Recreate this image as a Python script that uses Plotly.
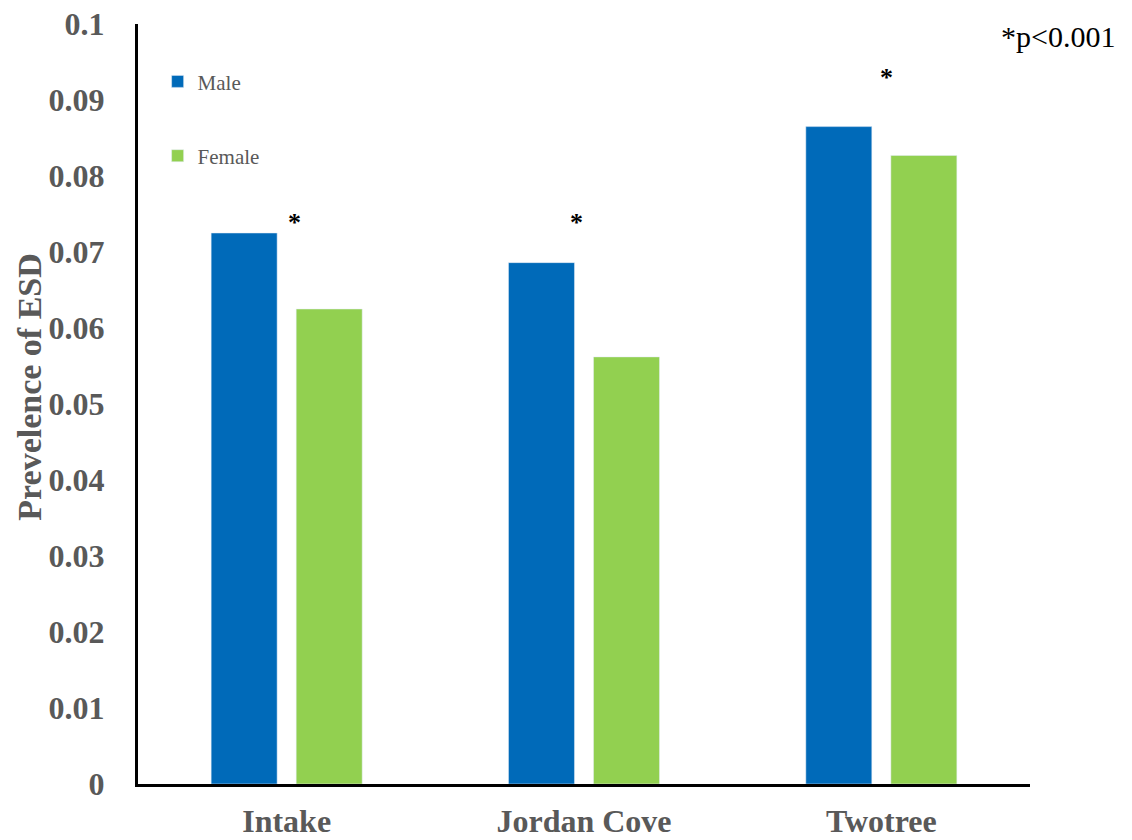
import plotly.graph_objects as go

# Prevalence of ESD by site and sex
sites = ["Intake", "Jordan Cove", "Twotree"]
male = [0.0725, 0.0686, 0.0865]
female = [0.0625, 0.0562, 0.0827]
y_ticks = [0, 0.01, 0.02, 0.03, 0.04, 0.05, 0.06, 0.07, 0.08, 0.09, 0.1]
y_ticktext = ["0", "0.01", "0.02", "0.03", "0.04", "0.05", "0.06", "0.07", "0.08", "0.09", "0.1"]

# significance markers: (site, height, horizontal nudge in px)
star_sites = ["Intake", "Jordan Cove", "Twotree"]
star_levels = [0.0739, 0.0739, 0.0929]
star_shift = [8, -8, 5]

SERIF = "Liberation Serif, Times New Roman, serif"
GREY = "#595959"

fig = go.Figure()
fig.add_trace(go.Bar(name="Male", x=sites, y=male, marker_color="#006AB9",
                     legendgroup="m"))
fig.add_trace(go.Bar(name="Female", x=sites, y=female, marker_color="#92D050",
                     legendgroup="f"))

annotations = []
for s, lvl, dx in zip(star_sites, star_levels, star_shift):
    annotations.append(dict(x=s, y=lvl, xref="x", yref="y", text="<b>*</b>",
                            showarrow=False, xshift=dx,
                            font=dict(family=SERIF, size=26, color="black")))

annotations.append(dict(x=1.0975, y=0.983, xref="paper", yref="paper",
                        text="*p<0.001", showarrow=False,
                        xanchor="right", yanchor="middle",
                        font=dict(family=SERIF, size=30, color="black")))

annotations.append(dict(x=-0.122, y=0.523, xref="paper", yref="paper",
                        text="<b>Prevelence of ESD</b>", showarrow=False,
                        textangle=-90, xanchor="center", yanchor="middle",
                        font=dict(family=SERIF, size=34, color=GREY)))

fig.update_layout(
    width=1132, height=840,
    margin=dict(l=138, r=102, t=24, b=56),
    paper_bgcolor="white", plot_bgcolor="white",
    barmode="group", bargap=0.428, bargroupgap=0.224,
    showlegend=True,
    legend=dict(x=0.022, y=0.951, xanchor="left", yanchor="top",
                tracegroupgap=44, bgcolor="rgba(0,0,0,0)",
                font=dict(family=SERIF, size=21, color=GREY)),
    annotations=annotations,
    xaxis=dict(showline=True, linecolor="black", linewidth=3, automargin=False,
               showgrid=False, ticks="", ticklabelstandoff=7,
               tickfont=dict(family=SERIF, size=32, color=GREY),
               tickprefix="<b>", ticksuffix="</b>"),
    yaxis=dict(range=[0, 0.1], showline=True, linecolor="black", linewidth=3,
               automargin=False,
               showgrid=False, zeroline=False, ticks="",
               tickvals=y_ticks, ticktext=["<b>" + t + "</b>" for t in y_ticktext],
               ticklabelstandoff=24,
               tickfont=dict(family=SERIF, size=32, color=GREY)),
)

fig.write_html("out.html")
